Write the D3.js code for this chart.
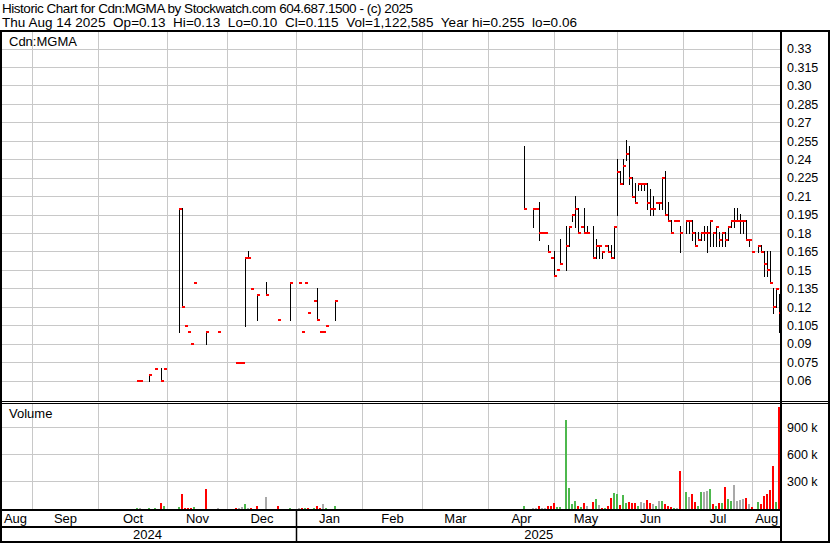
<!DOCTYPE html>
<html><head><meta charset="utf-8">
<script src="https://cdn.jsdelivr.net/npm/d3@7"></script>
<style>
html,body{margin:0;padding:0;background:#fff;}
svg{display:block;font-family:"Liberation Sans",Arial,sans-serif;}
</style></head><body>
<svg id="c" width="830" height="543"></svg>
<script>
// ---------------- data ----------------
const firstDay = "2024-08-15";
const lastDay  = "2025-08-14";
const prevClose = 0.055; // close before first bar in window

const dates = [
 "2024-10-18","2024-10-21","2024-10-24","2024-10-28","2024-10-30","2024-10-31",
 "2024-11-07","2024-11-08","2024-11-11","2024-11-12","2024-11-13","2024-11-14","2024-11-20","2024-11-26",
 "2024-12-04","2024-12-05","2024-12-06","2024-12-09","2024-12-10","2024-12-11","2024-12-13","2024-12-18","2024-12-24","2024-12-30",
 "2025-01-02","2025-01-03","2025-01-06","2025-01-07","2025-01-09","2025-01-10","2025-01-13","2025-01-14","2025-01-15","2025-01-20",
 "2025-04-17","2025-04-22","2025-04-23","2025-04-24","2025-04-25","2025-04-28","2025-04-29","2025-04-30",
 "2025-05-01","2025-05-02","2025-05-05","2025-05-07","2025-05-08","2025-05-09","2025-05-12","2025-05-13","2025-05-14","2025-05-15","2025-05-16",
 "2025-05-20","2025-05-21","2025-05-22","2025-05-23","2025-05-26","2025-05-27","2025-05-28","2025-05-29","2025-05-30",
 "2025-06-02","2025-06-03","2025-06-04","2025-06-05","2025-06-06","2025-06-09","2025-06-10","2025-06-11","2025-06-12","2025-06-13",
 "2025-06-16","2025-06-17","2025-06-18","2025-06-19","2025-06-20","2025-06-23","2025-06-24","2025-06-25","2025-06-26","2025-06-27","2025-06-30",
 "2025-07-02","2025-07-03","2025-07-04","2025-07-07","2025-07-08","2025-07-09","2025-07-10","2025-07-11",
 "2025-07-14","2025-07-15","2025-07-16","2025-07-17","2025-07-18","2025-07-21","2025-07-22","2025-07-23","2025-07-24","2025-07-25",
 "2025-07-28","2025-07-29","2025-07-30","2025-07-31","2025-08-01","2025-08-05","2025-08-06","2025-08-07","2025-08-08",
 "2025-08-11","2025-08-12","2025-08-13","2025-08-14"
];
const highs = [
 0.06,0.06,0.065,0.07,0.07,0.07,
 0.20,0.20,0.105,0.10,0.09,0.14,0.10,0.10,
 0.075,0.075,0.075,0.16,0.165,0.135,0.13,0.14,0.11,0.14,
 0.14,0.10,0.14,0.115,0.125,0.135,0.10,0.10,0.105,0.125,
 0.25,0.20,0.20,0.205,0.18,0.18,0.17,0.16,
 0.165,0.15,0.175,0.185,0.185,0.195,0.21,0.20,0.185,0.20,0.185,
 0.185,0.175,0.17,0.165,0.17,0.17,0.17,0.185,0.24,
 0.23,0.24,0.255,0.25,0.225,0.22,0.22,0.22,0.22,0.22,
 0.215,0.21,0.205,0.205,0.225,0.23,0.205,0.19,0.19,0.19,0.185,
 0.19,0.19,0.19,0.18,0.18,0.18,0.185,0.185,
 0.19,0.18,0.185,0.18,0.18,0.18,0.185,0.19,0.20,0.20,
 0.195,0.19,0.19,0.175,0.165,0.17,0.17,0.165,0.165,
 0.165,0.135,0.135,0.13
];
const lows = [
 0.06,0.06,0.06,0.07,0.06,0.07,
 0.10,0.12,0.105,0.10,0.09,0.14,0.09,0.10,
 0.075,0.075,0.075,0.105,0.16,0.135,0.11,0.13,0.11,0.11,
 0.14,0.10,0.14,0.115,0.125,0.11,0.10,0.10,0.105,0.11,
 0.20,0.185,0.20,0.175,0.18,0.18,0.165,0.16,
 0.145,0.15,0.155,0.15,0.17,0.19,0.185,0.18,0.185,0.18,0.18,
 0.16,0.16,0.16,0.16,0.17,0.165,0.16,0.16,0.195,
 0.22,0.22,0.24,0.22,0.21,0.205,0.215,0.215,0.215,0.20,
 0.195,0.195,0.205,0.20,0.20,0.195,0.19,0.18,0.19,0.19,0.165,
 0.18,0.18,0.175,0.17,0.175,0.175,0.175,0.165,
 0.17,0.17,0.17,0.17,0.17,0.17,0.175,0.185,0.185,0.19,
 0.18,0.18,0.175,0.17,0.165,0.165,0.165,0.145,0.145,
 0.14,0.115,0.12,0.10
];
const closes = [
 0.06,0.06,0.065,0.07,0.06,0.07,
 0.20,0.12,0.105,0.10,0.09,0.14,0.10,0.10,
 0.075,0.075,0.075,0.16,0.16,0.135,0.13,0.13,0.11,0.14,
 0.14,0.10,0.14,0.115,0.125,0.11,0.10,0.10,0.105,0.125,
 0.20,0.20,0.20,0.18,0.18,0.18,0.165,0.16,
 0.145,0.15,0.155,0.17,0.185,0.195,0.20,0.18,0.185,0.18,0.18,
 0.16,0.17,0.17,0.165,0.17,0.165,0.16,0.185,0.23,
 0.22,0.235,0.245,0.225,0.21,0.205,0.22,0.22,0.22,0.205,
 0.20,0.20,0.205,0.205,0.225,0.195,0.19,0.18,0.19,0.19,0.18,
 0.19,0.19,0.18,0.17,0.175,0.18,0.18,0.18,
 0.19,0.18,0.185,0.175,0.18,0.175,0.185,0.19,0.19,0.19,
 0.19,0.19,0.175,0.175,0.165,0.17,0.165,0.155,0.15,
 0.14,0.12,0.135,0.115
];
const volumes = [
 4000,4000,4000,4000,59000,22000,
 11000,159000,1000,1000,1000,11000,211000,1000,
 1000,1000,11000,44000,1000,1000,22000,126000,22000,1000,
 1000,1000,1000,1000,1000,22000,1000,44000,1000,22000,
 22000,4000,4000,22000,4000,4000,22000,22000,
 52000,15000,15000,978000,222000,44000,78000,22000,15000,56000,22000,
 67000,100000,33000,4000,4000,22000,111000,167000,156000,
 33000,144000,56000,67000,56000,52000,22000,67000,59000,89000,
 56000,44000,22000,78000,78000,44000,22000,15000,4000,4000,415000,
 178000,122000,156000,67000,22000,178000,178000,189000,
 211000,44000,22000,56000,56000,233000,100000,78000,256000,78000,
 89000,100000,111000,44000,15000,67000,44000,133000,156000,
 200000,467000,67000,1122585
];

const priceTicks = [0.06,0.075,0.09,0.105,0.12,0.135,0.15,0.165,0.18,0.195,0.21,0.225,0.24,0.255,0.27,0.285,0.30,0.315,0.33];
const priceTickLabels = ["0.06","0.075","0.09","0.105","0.12","0.135","0.15","0.165","0.18","0.195","0.21","0.225","0.24","0.255","0.27","0.285","0.30","0.315","0.33"];
const volumeTicks = [300000,600000,900000];
const volumeTickLabels = ["300 k","600 k","900 k"];
const monthLabels = ["Aug","Sep","Oct","Nov","Dec","Jan","Feb","Mar","Apr","May","Jun","Jul","Aug"];
const yearLabels = ["2024","2025"];
const headerLine1 = "Historic Chart for Cdn:MGMA by Stockwatch.com 604.687.1500 - (c) 2025";
const headerFields = ["Thu Aug 14 2025","Op=0.13","Hi=0.13","Lo=0.10","Cl=0.115","Vol=1,122,585","Year hi=0.255","lo=0.06"];
const symbolLabel = "Cdn:MGMA";
const volumeLabel = "Volume";

// ---------------- layout ----------------
const RED="#ff0000", GREEN="#4db84d", GRAY="#a9a9a9", GRID="#c8c8c8";
const svg = d3.select("#c");
svg.append("rect").attr("width",830).attr("height",543).attr("fill","#fff");

const parse = d3.utcParse("%Y-%m-%d");
const fmt = d3.utcFormat("%Y-%m-%d");
const allDays = d3.utcDay.range(parse(firstDay), d3.utcDay.offset(parse(lastDay),1))
  .filter(d => d.getUTCDay()!==0 && d.getUTCDay()!==6);
const idx = new Map(allDays.map((d,i)=>[fmt(d),i]));
const N = allDays.length-1;
const x = d3.scaleLinear().domain([0,N]).range([-2,-2+3*N]);
const yP = d3.scaleLinear().domain([0.06,0.33]).range([380.5,48.5]);
const yV = d3.scaleLinear().domain([0,1200000]).range([508,400]);

const PT=32, PB=401, VT=403, VB=509, RX=781;

// month boundaries
const months = d3.utcMonth.range(d3.utcMonth.offset(d3.utcMonth.floor(parse(firstDay)),1), d3.utcDay.offset(parse(lastDay),1));
const bounds = months.map(m => x(d3.bisectRight(allDays, m)-1)+1.5);

const g = svg.append("g");
g.selectAll(".hp").data(priceTicks).join("line")
  .attr("x1",2).attr("x2",RX-1)
  .attr("y1",d=>Math.round(yP(d))+0.5).attr("y2",d=>Math.round(yP(d))+0.5)
  .attr("stroke",GRID).attr("stroke-width",1);
g.selectAll(".hv").data(volumeTicks).join("line")
  .attr("x1",2).attr("x2",RX-1)
  .attr("y1",d=>Math.round(yV(d))+0.5).attr("y2",d=>Math.round(yV(d))+0.5)
  .attr("stroke",GRID).attr("stroke-width",1);
bounds.forEach(b=>{
  g.append("line").attr("x1",b).attr("x2",b).attr("y1",PT).attr("y2",PB).attr("stroke",GRID);
  g.append("line").attr("x1",b).attr("x2",b).attr("y1",VT).attr("y2",VB).attr("stroke",GRID);
});

const recs = dates.map((d,i)=>({i:idx.get(d),h:highs[i],l:lows[i],c:closes[i],v:volumes[i],
  pc: i===0?prevClose:closes[i-1]}));

svg.append("g").selectAll("rect").data(recs).join("rect")
  .attr("x",d=>x(d.i)).attr("width",2)
  .attr("y",d=>Math.min(Math.round(yV(d.v)),VB-1))
  .attr("height",d=>VB-Math.min(Math.round(yV(d.v)),VB-1))
  .attr("fill",d=>d.c>d.pc+1e-9?GREEN:(d.c<d.pc-1e-9?RED:GRAY));

const pb = svg.append("g");
pb.selectAll("rect.hl").data(recs.filter(d=>d.h>d.l)).join("rect")
  .attr("x",d=>x(d.i)+1).attr("width",1)
  .attr("y",d=>Math.floor(yP(d.h)))
  .attr("height",d=>Math.ceil(yP(d.l))-Math.floor(yP(d.h))+1)
  .attr("fill","#000");
pb.selectAll("rect.cl").data(recs).join("rect")
  .attr("x",d=>x(d.i)+1).attr("width",3)
  .attr("y",d=>Math.floor(yP(d.c))).attr("height",2)
  .attr("fill",RED);

const L = (x1,y1,x2,y2,w)=>svg.append("line").attr("x1",x1).attr("y1",y1).attr("x2",x2).attr("y2",y2).attr("stroke","#000").attr("stroke-width",w);
L(0,31,830,31,2);
L(1,30,1,543,2);
L(829,30,829,543,2);
L(0,542,830,542,2);
L(RX,30,RX,542,2);
L(0,401.5,830,401.5,1);
L(0,403.5,830,403.5,1);
L(0,510,RX,510,2);
L(0,527,RX,527,2);
const janB = bounds[4];
L(janB,510,janB,542,1.5);

svg.append("g").selectAll("text").data(priceTicks).join("text")
  .attr("x",787).attr("y",d=>yP(d)+4.8).attr("font-size",12.5).attr("fill","#000")
  .text((d,i)=>priceTickLabels[i]);
svg.append("g").selectAll("text").data(volumeTicks).join("text")
  .attr("x",787).attr("y",d=>yV(d)+4.8).attr("font-size",12.5).attr("fill","#000")
  .text((d,i)=>volumeTickLabels[i]);

const edges = [x(0)+0.5, ...bounds, x(N)+3];
svg.append("g").selectAll("text").data(monthLabels).join("text")
  .attr("x",(d,i)=>(edges[i]+edges[i+1])/2).attr("y",523)
  .attr("text-anchor","middle").attr("font-size",13).text(d=>d);
const yEdges = [x(0)+0.5, janB, RX];
svg.append("g").selectAll("text").data(yearLabels).join("text")
  .attr("x",(d,i)=>(yEdges[i]+yEdges[i+1])/2).attr("y",539)
  .attr("text-anchor","middle").attr("font-size",13).text(d=>d);

svg.append("text").attr("x",2).attr("y",13).attr("font-size",13.5)
  .attr("textLength",411).attr("lengthAdjust","spacing").text(headerLine1);
svg.append("text").attr("x",2).attr("y",27).attr("font-size",13.5)
  .attr("xml:space","preserve").style("white-space","pre")
  .attr("textLength",575).attr("lengthAdjust","spacing")
  .text(headerFields.join("  "));

svg.append("text").attr("x",9).attr("y",46).attr("font-size",13).text(symbolLabel);
svg.append("text").attr("x",9).attr("y",418).attr("font-size",13).text(volumeLabel);
</script>
</body></html>
